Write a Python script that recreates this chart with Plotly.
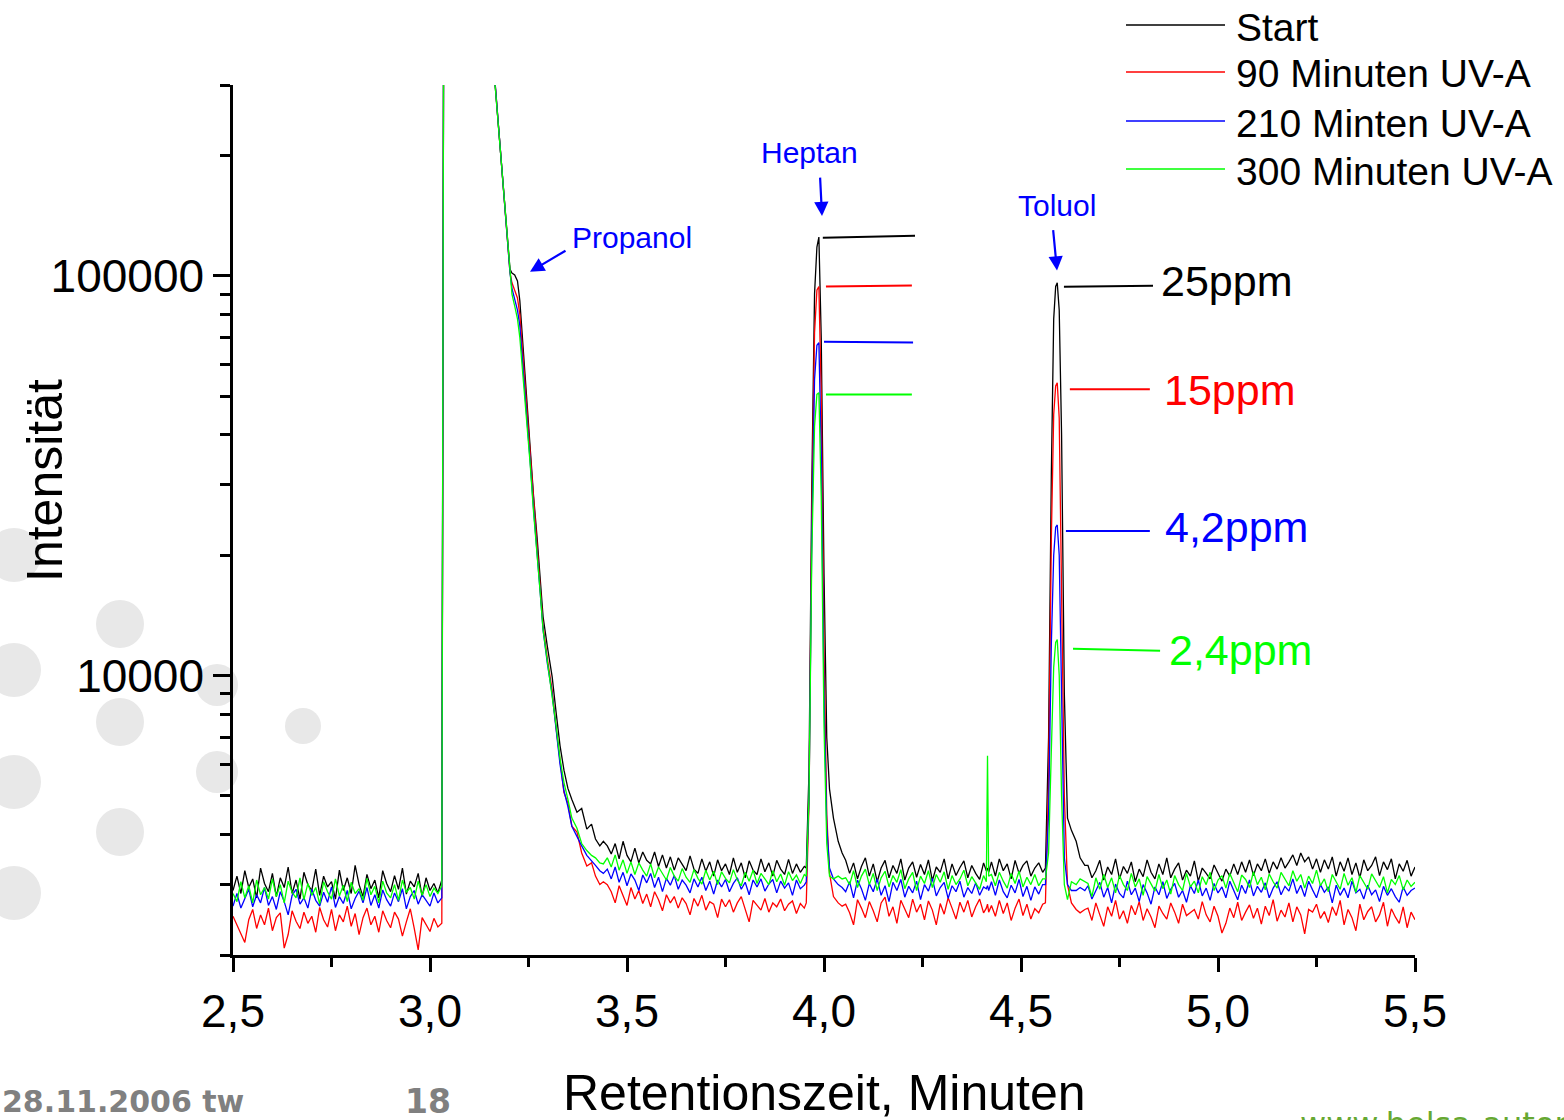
import math
import plotly.graph_objects as go

# ---------------- data ----------------
series_names = ["Start", "90 Minuten UV-A", "210 Minten UV-A", "300 Minuten UV-A"]
series_colors = ["#000000", "#ff0000", "#0000ff", "#00ff00"]


def grid(a, b, step=0.01):
    n = int(round((b - a) / step)) + 1
    return [round(a + i * step, 3) for i in range(n)]


# retention time (minutes) sampling points, by region
time_base_left = grid(2.50, 3.03)                    # 54
time_solvent = [3.036, 3.100, 3.155, 3.165, 3.184, 3.203, 3.208, 3.215, 3.222, 3.228,
                3.241, 3.254, 3.263, 3.272, 3.280, 3.287, 3.298, 3.310, 3.320, 3.330,
                3.340, 3.350, 3.360, 3.373, 3.385, 3.398, 3.410, 3.420, 3.431, 3.440]
time_base_mid = grid(3.45, 3.95)                     # 51
time_heptan = [3.955, 3.962, 3.969, 3.976, 3.982, 3.987, 3.993, 4.000, 4.007, 4.014,
               4.024, 4.036, 4.046]
time_base_e1 = grid(4.055, 4.405)                    # 36
time_spike = [4.412, 4.415, 4.418]
time_base_e2 = grid(4.425, 4.555)                    # 14
time_toluol = [4.562, 4.570, 4.577, 4.583, 4.588, 4.592, 4.597, 4.603, 4.610, 4.618,
               4.628, 4.640, 4.650, 4.662]
time_base_right = grid(4.67, 5.50)                   # 84

time = (time_base_left + time_solvent + time_base_mid + time_heptan + time_base_e1
        + time_spike + time_base_e2 + time_toluol + time_base_right)

start_int = [
    # 2.50 - 3.03
    2900, 3150, 2850, 3250, 2950, 3100, 2780, 3300, 3020, 2880,
    3200, 2800, 3120, 2950, 3320, 2850, 3080, 2760, 3220, 3000,
    2900, 3280, 2820, 3150, 2960, 3050, 2760, 3260, 2900, 3120,
    2850, 3350, 3000, 2800, 3180, 2930, 3080, 2780, 3250, 3020,
    2880, 3160, 2920, 3300, 2840, 3060, 2960, 3200, 2800, 3120,
    2900, 3020, 2860, 3080,
    # solvent / propanol
    2000000, 2000000, 400000, 300000, 176000, 104000, 101500, 100500, 97000, 86600,
    57000, 37200, 28000, 22000, 17200, 14030, 11800, 9940, 8100, 6680,
    5800, 5220, 4900, 4550, 4650, 4130, 4250, 3900, 3750, 3850,
    # 3.45 - 3.95
    3750, 3580, 3800, 3480, 3850, 3550, 3420, 3700, 3400, 3620,
    3450, 3380, 3620, 3330, 3560, 3300, 3520, 3260, 3500, 3380,
    3250, 3540, 3280, 3200, 3480, 3240, 3420, 3150, 3460, 3250,
    3380, 3180, 3500, 3220, 3400, 3120, 3440, 3260, 3180, 3480,
    3230, 3400, 3150, 3450, 3280, 3180, 3470, 3200, 3380, 3220, 3330,
    # heptan
    3300, 5800, 30000, 90000, 118000, 125000, 70000, 18000, 7000, 5200,
    4400, 3850, 3600,
    # 4.055 - 4.405
    3450, 3200, 3400, 3100, 3330, 3500, 3150, 3380, 3050, 3300,
    3450, 3120, 3350, 3200, 3480, 3080, 3300, 3420, 3130, 3370,
    3180, 3460, 3070, 3320, 3220, 3480, 3100, 3380, 3160, 3310,
    3440, 3120, 3350, 3200, 3090, 3400,
    # spike region
    3250, 3300, 3220,
    # 4.425 - 4.555
    3420, 3150, 3480, 3250, 3380, 3100, 3450, 3200, 3350, 3440, 3150, 3300, 3400, 3220,
    # toluol
    3300, 7000, 32000, 78000, 94000, 96000, 82000, 40000, 9000, 4400,
    4100, 3850, 3500, 3350,
    # 4.67 - 5.50
    3350, 3120, 3250, 3450, 3080, 3320, 3180, 3480, 3100, 3330,
    3200, 3420, 3050, 3280, 3140, 3460, 3220, 3100, 3380, 3180,
    3500, 3120, 3280, 3400, 3080, 3260, 3150, 3440, 3060, 3300,
    3200, 3100, 3360, 3220, 3060, 3280, 3150, 3380, 3180, 3420,
    3220, 3460, 3160, 3380, 3250, 3480, 3200, 3420, 3280, 3500,
    3300, 3420, 3560, 3350, 3600, 3420, 3520, 3280, 3480, 3220,
    3460, 3280, 3520, 3150, 3420, 3240, 3500, 3180, 3400, 3120,
    3460, 3250, 3350, 3520, 3160, 3420, 3270, 3480, 3100, 3380,
    3240, 3450, 3150, 3320,
]

uv90_int = [
    2500, 2380, 2250, 2150, 2450, 2600, 2330, 2520, 2380, 2620,
    2300, 2480, 2550, 2080, 2250, 2580, 2430, 2330, 2560, 2400,
    2500, 2280, 2630, 2450, 2350, 2600, 2300, 2520, 2420, 2650,
    2360, 2540, 2250, 2480, 2620, 2380, 2500, 2280, 2580, 2440,
    2340, 2560, 2460, 2230, 2420, 2610, 2330, 2060, 2480, 2380,
    2290, 2470, 2350, 2400,
    2000000, 2000000, 400000, 300000, 175000, 102000, 96000, 92000, 88000, 80000,
    54000, 35500, 26500, 20800, 16300, 13300, 11000, 9200, 7400, 6100,
    5100, 4800, 4200, 4060, 3600, 3340, 3400, 3150, 3000, 3050,
    3000, 2880, 2700, 2980, 2820, 2660, 2950, 2760, 2900, 2690,
    2840, 2640, 2880, 2750, 2580, 2830, 2700, 2800, 2620, 2780,
    2690, 2520, 2770, 2650, 2820, 2590, 2720, 2680, 2480, 2760,
    2640, 2750, 2560, 2700, 2800, 2620, 2420, 2740, 2660, 2590,
    2770, 2560, 2700, 2640, 2760, 2580, 2680, 2730, 2540, 2690, 2620,
    2700, 4800, 25000, 72000, 92000, 94000, 50000, 12000, 4500, 3200,
    2800, 2700, 2650,
    2680, 2550, 2380, 2750, 2620, 2480, 2720, 2580, 2420, 2700,
    2790, 2500, 2640, 2400, 2740, 2600, 2480, 2760, 2560, 2680,
    2450, 2730, 2590, 2380, 2690, 2530, 2780, 2620, 2460, 2710,
    2560, 2740, 2490, 2640, 2760, 2550,
    2620, 2680, 2560,
    2660, 2500, 2740, 2540, 2700, 2440, 2620, 2760, 2510, 2680, 2460, 2610, 2550, 2680,
    2700, 5500, 22000, 45000, 53000, 54000, 44000, 18000, 5000, 3000,
    2700, 2600, 2550, 2600,
    2620, 2440, 2700, 2520, 2360, 2640, 2500, 2740, 2460, 2580,
    2400, 2660, 2520, 2720, 2440, 2610, 2490, 2340, 2650, 2540,
    2460, 2700, 2560, 2400, 2680, 2510, 2560, 2600, 2460, 2720,
    2520, 2420, 2650, 2500, 2270, 2400, 2620, 2480, 2710, 2440,
    2560, 2670, 2470, 2620, 2390, 2650, 2510, 2750, 2430, 2590,
    2490, 2700, 2420, 2640, 2520, 2260, 2600, 2560, 2680, 2470,
    2570, 2410, 2640, 2510, 2740, 2380, 2600, 2480, 2300, 2680,
    2450, 2570, 2640, 2420, 2520, 2710, 2360, 2610, 2490, 2400,
    2640, 2340, 2560, 2450,
]

uv210_int = [
    2650, 2850, 2620, 2760, 2920, 2640, 2830, 2700, 2950, 2660,
    2800, 2600, 2880, 2720, 2520, 2820, 2920, 2680, 2780, 2620,
    2920, 2740, 2650, 2870, 2710, 2960, 2630, 2800, 2690, 2900,
    2610, 2770, 2890, 2700, 2950, 2660, 2830, 2620, 2910, 2750,
    2650, 2860, 2720, 2930, 2610, 2800, 2900, 2680, 2830, 2740,
    2650, 2860, 2700, 2780,
    2000000, 2000000, 400000, 300000, 175000, 102000, 93000, 88000, 82000, 75000,
    52000, 34500, 26000, 20500, 16000, 13000, 10700, 9000, 7300, 6000,
    5150, 4700, 4200, 3950, 3750, 3550, 3450, 3350, 3250, 3200,
    3280, 3100, 3320, 3040, 3220, 2980, 3190, 3080, 2900, 3170,
    3030, 3200, 2950, 3130, 2880, 3110, 2990, 3160, 2920, 3080,
    2990, 2860, 3100, 2960, 3130, 2900, 3060, 2840, 3080, 2960,
    3090, 2880, 3020, 3120, 2920, 3040, 2830, 3080, 2960, 3100,
    2890, 3010, 3090, 2860, 3060, 2940, 3030, 2820, 3080, 2930, 2990,
    3050, 5000, 22000, 55000, 67000, 68000, 36000, 9000, 4200, 3300,
    3100, 3000, 2950,
    2880, 3050, 2780, 3080, 2930, 2740, 3020, 2880, 3100, 2820,
    2980, 2720, 3040, 2900, 3090, 2790, 2970, 2860, 3060, 2750,
    3000, 2890, 3110, 2810, 2950, 3040, 2770, 2980, 2880, 3060,
    2790, 2950, 2850, 3030, 2820, 2960,
    2930, 2980, 2900,
    3050, 2820, 3080, 2880, 2780, 2990, 2860, 3090, 2800, 2970, 2740, 2960, 2840, 3000,
    3000, 4500, 12000, 20000, 23500, 23800, 20000, 9000, 3500, 3000,
    2900, 2900, 2950, 2900,
    2980, 2760, 2900, 3040, 2790, 2950, 2700, 3010, 2850, 2780,
    3060, 2830, 2940, 2720, 3000, 2860, 2680, 2960, 2830, 3050,
    2770, 2920, 3020, 2790, 2900, 2710, 2980, 2850, 3080, 2810,
    2940, 2740, 3020, 2860, 2960, 2780, 3060, 2900, 2750, 2990,
    2850, 3080, 2810, 2970, 2870, 3030, 2780, 2940, 3050, 2830,
    2970, 2890, 3100, 2850, 2990, 2800, 3060, 2910, 2780, 3000,
    2870, 2960, 2700, 2990, 2820, 2940, 2780, 3060, 2860, 2920,
    2760, 2990, 2830, 2910, 2720, 2970, 2820, 2930, 2800, 2710,
    2960, 2820, 2900, 2940,
]

uv300_int = [
    2850, 2720, 3050, 2780, 2980, 2700, 3080, 2830, 2950, 2760,
    3100, 2800, 3000, 2700, 3060, 2870, 2780, 3120, 2750, 3020,
    2820, 2950, 2680, 3050, 2880, 2760, 3100, 2810, 2990, 2720,
    3040, 2850, 2930, 2740, 3110, 2830, 2970, 2700, 3060, 2860,
    2780, 3000, 2740, 3080, 2870, 2950, 2760, 3060, 2820, 3000,
    2800, 2940, 2850, 2980,
    2000000, 2000000, 400000, 300000, 175000, 101000, 90000, 84000, 78000, 70000,
    50000, 34000, 25500, 20300, 16000, 13000, 10800, 9100, 7500, 6200,
    5400, 4900, 4400, 4150, 3800, 3650, 3550, 3500, 3400, 3380,
    3500, 3320, 3560, 3260, 3460, 3200, 3420, 3180, 3400, 3260,
    3150, 3380, 3120, 3320, 3200, 3080, 3310, 3150, 3060, 3290,
    3130, 3040, 3270, 3110, 3010, 3260, 3080, 3240, 3000, 3230,
    3110, 3030, 3270, 3080, 2980, 3220, 3060, 3260, 3020, 3200,
    3100, 3000, 3250, 3050, 3190, 2990, 3230, 3070, 3170, 3020, 3180,
    3150, 5000, 20000, 42000, 50500, 51000, 28000, 7500, 3800, 3150,
    3100, 3150, 3100,
    3120, 3000, 3250, 2950, 3150, 3280, 3000, 3200, 2900, 3120,
    3240, 2960, 3160, 3040, 3270, 2930, 3100, 3220, 2900, 3150,
    3020, 3250, 2950, 3180, 3040, 3230, 2920, 3160, 3000, 3100,
    3260, 2980, 3140, 3030, 2920, 3160,
    3050, 6300, 3150,
    3180, 2980, 3220, 3060, 2940, 3200, 3020, 3240, 2960, 3130, 3000, 3180, 2980, 3100,
    3100, 3600, 6500, 10500, 12100, 12300, 10000, 5000, 3000, 2750,
    3050, 3000, 3100, 3050,
    3020, 2800, 3120, 2920, 3180, 2950, 3120, 2860, 3160, 3000,
    2900, 3200, 2960, 3100, 2820, 3140, 3000, 2890, 3180, 2930,
    3080, 2840, 3160, 3000, 2900, 3200, 2960, 3060, 2860, 3140,
    3000, 3220, 2900, 3080, 3160, 2940, 3200, 3030, 2880, 3170,
    3090, 2950, 3230, 3000, 3130, 2910, 3190, 3050, 2940, 3220,
    3100, 2980, 3250, 3060, 3180, 2940, 3150, 3020, 3260, 2980,
    3100, 2880, 3180, 3040, 2920, 3200, 2990, 3120, 2870, 3160,
    3030, 2920, 3190, 3060, 2950, 3140, 2860, 3090, 3000, 3160,
    2910, 3080, 2970, 3040,
]

series_values = [start_int, uv90_int, uv210_int, uv300_int]
for vals in series_values:
    assert len(vals) == len(time), (len(vals), len(time))

# peak marker lines (peak heights) and concentration labels
heptan_marks = [  # (x0, x1, y0, y1)
    (3.997, 4.231, 124400, 125900),
    (4.005, 4.223, 94000, 94500),
    (4.000, 4.226, 68400, 68100),
    (4.005, 4.223, 50500, 50500),
]
toluol_marks = [
    (4.609, 4.835, 93900, 94400),
    (4.624, 4.827, 52000, 52000),
    (4.614, 4.827, 23000, 23000),
    (4.632, 4.853, 11670, 11540),
]
ppm_labels = ["25ppm", "15ppm", "4,2ppm", "2,4ppm"]

x_ticks = [2.5, 3.0, 3.5, 4.0, 4.5, 5.0, 5.5]
x_ticktext = ["2,5", "3,0", "3,5", "4,0", "4,5", "5,0", "5,5"]
x_minor = [2.75, 3.25, 3.75, 4.25, 4.75, 5.25]
y_ticks = [10000, 100000]
y_ticktext = ["10000", "100000"]
y_minor = [2000, 3000, 4000, 5000, 6000, 7000, 8000, 9000,
           20000, 30000, 40000, 50000, 60000, 70000, 80000, 90000,
           200000, 300000]

# ---------------- layout geometry ----------------
W, H = 1564, 1120
L, R, T, B = 233, 149, 85, 165
PW, PH = W - L - R, H - T - B


def px(xp):
    return (xp - L) / PW


def py(yp):
    return (H - B - yp) / PH


FONT = "Liberation Sans, Arial, sans-serif"

fig = go.Figure()

for name, color, vals in zip(series_names, series_colors, series_values):
    fig.add_trace(go.Scatter(x=time, y=vals, mode="lines", name=name,
                             line=dict(color=color, width=1.3), showlegend=False))

for marks in (heptan_marks, toluol_marks):
    for (x0, x1, y0, y1), color in zip(marks, series_colors):
        fig.add_trace(go.Scatter(x=[x0, x1], y=[y0, y1], mode="lines",
                                 line=dict(color=color, width=2),
                                 showlegend=False, hoverinfo="skip"))

annotations = []
shapes = []

# concentration labels
ppm_pos = [(1159, 281), (1162, 390), (1163, 527), (1167, 650)]
for text, color, (xp, yp) in zip(ppm_labels, series_colors, ppm_pos):
    annotations.append(dict(x=px(xp), y=py(yp), xref="paper", yref="paper",
                            text=text, showarrow=False, xanchor="left", yanchor="middle",
                            font=dict(family=FONT, size=43, color=color)))

# compound labels
annotations.append(dict(x=px(809), y=py(152), xref="paper", yref="paper", text="Heptan",
                        showarrow=False, xanchor="center", yanchor="middle",
                        font=dict(family=FONT, size=30, color="#0000ff")))
annotations.append(dict(x=px(1057), y=py(205), xref="paper", yref="paper", text="Toluol",
                        showarrow=False, xanchor="center", yanchor="middle",
                        font=dict(family=FONT, size=30, color="#0000ff")))
annotations.append(dict(x=px(570), y=py(237), xref="paper", yref="paper", text="Propanol",
                        showarrow=False, xanchor="left", yanchor="middle",
                        font=dict(family=FONT, size=30, color="#0000ff")))

# arrows (head at data point; y in log10 for log axis)
arrows = [(3.995, 141000, -2, -40), (4.5914, 103000, -4, -42), (3.2538, 102300, 37, -22)]
for ax_x, ax_y, dx, dy in arrows:
    annotations.append(dict(x=ax_x, y=math.log10(ax_y), xref="x", yref="y", text="",
                            showarrow=True, ax=dx, ay=dy, arrowhead=2, arrowsize=1.3,
                            arrowwidth=2.2, arrowcolor="#0000ff", standoff=0))

# manual legend
legend_rows = [25, 72, 121, 169]
for name, color, yp in zip(series_names, series_colors, legend_rows):
    shapes.append(dict(type="line", xref="paper", yref="paper", x0=px(1126), x1=px(1225),
                       y0=py(yp), y1=py(yp), line=dict(color=color, width=1.3)))
    annotations.append(dict(x=px(1234), y=py(yp + 2), xref="paper", yref="paper", text=name,
                            showarrow=False, xanchor="left", yanchor="middle",
                            font=dict(family=FONT, size=39, color="#000000")))

# axis titles
annotations.append(dict(x=px(45), y=py(481), xref="paper", yref="paper", text="Intensität",
                        textangle=-90, showarrow=False, xanchor="center", yanchor="middle",
                        font=dict(family=FONT, size=50, color="#000000")))
annotations.append(dict(x=px(824), y=py(1093), xref="paper", yref="paper",
                        text="Retentionszeit, Minuten", showarrow=False,
                        xanchor="center", yanchor="middle",
                        font=dict(family=FONT, size=50, color="#000000")))

# slide footer
annotations.append(dict(x=px(0), y=py(1101), xref="paper", yref="paper", text="<b>28.11.2006 tw</b>",
                        showarrow=False, xanchor="left", yanchor="middle",
                        font=dict(family="DejaVu Sans", size=30, color="#808080")))
annotations.append(dict(x=px(403), y=py(1101), xref="paper", yref="paper", text="<b>18</b>",
                        showarrow=False, xanchor="left", yanchor="middle",
                        font=dict(family="DejaVu Sans", size=33, color="#808080")))
annotations.append(dict(x=px(1298), y=py(1124), xref="paper", yref="paper",
                        text="www.helsa-automotive.com",
                        showarrow=False, xanchor="left", yanchor="middle",
                        font=dict(family="DejaVu Sans", size=32, color="#66a832")))

# decorative grey circles
circles = [(14, 555, 27), (120, 624, 24), (14, 670, 27), (120, 722, 24), (217, 685, 21),
           (303, 726, 18), (14, 782, 27), (217, 772, 21), (120, 832, 24), (14, 893, 27)]
for cx, cy, r in circles:
    shapes.append(dict(type="circle", xref="paper", yref="paper", xsizemode="pixel",
                       ysizemode="pixel", xanchor=px(cx), yanchor=py(cy),
                       x0=-r, x1=r, y0=-r, y1=r, fillcolor="#e8e8e8",
                       line=dict(width=0), layer="below"))

fig.update_layout(
    width=W, height=H,
    margin=dict(l=L, r=R, t=T, b=B, pad=0),
    paper_bgcolor="#ffffff", plot_bgcolor="rgba(0,0,0,0)",
    font=dict(family=FONT, color="#000000"),
    showlegend=False,
    annotations=annotations, shapes=shapes,
    xaxis=dict(range=[2.5, 5.5], tickmode="array", tickvals=x_ticks, ticktext=x_ticktext,
               ticks="outside", ticklen=14, tickwidth=2.5, tickcolor="#000000",
               showline=True, linewidth=2.5, linecolor="#000000", showgrid=False,
               zeroline=False, tickfont=dict(family=FONT, size=46),
               minor=dict(tickmode="array", tickvals=x_minor, ticks="outside", ticklen=9,
                          tickwidth=2.5, tickcolor="#000000", showgrid=False)),
    yaxis=dict(type="log", range=[math.log10(2000), math.log10(300000)],
               tickmode="array", tickvals=y_ticks, ticktext=y_ticktext,
               ticks="outside", ticklen=17, tickwidth=2.5, tickcolor="#000000",
               showline=True, linewidth=2.5, linecolor="#000000", showgrid=False,
               zeroline=False, tickfont=dict(family=FONT, size=46),
               minor=dict(tickmode="array", tickvals=y_minor, ticks="outside", ticklen=10,
                          tickwidth=2.5, tickcolor="#000000", showgrid=False)),
)

fig.write_html("out.html")
